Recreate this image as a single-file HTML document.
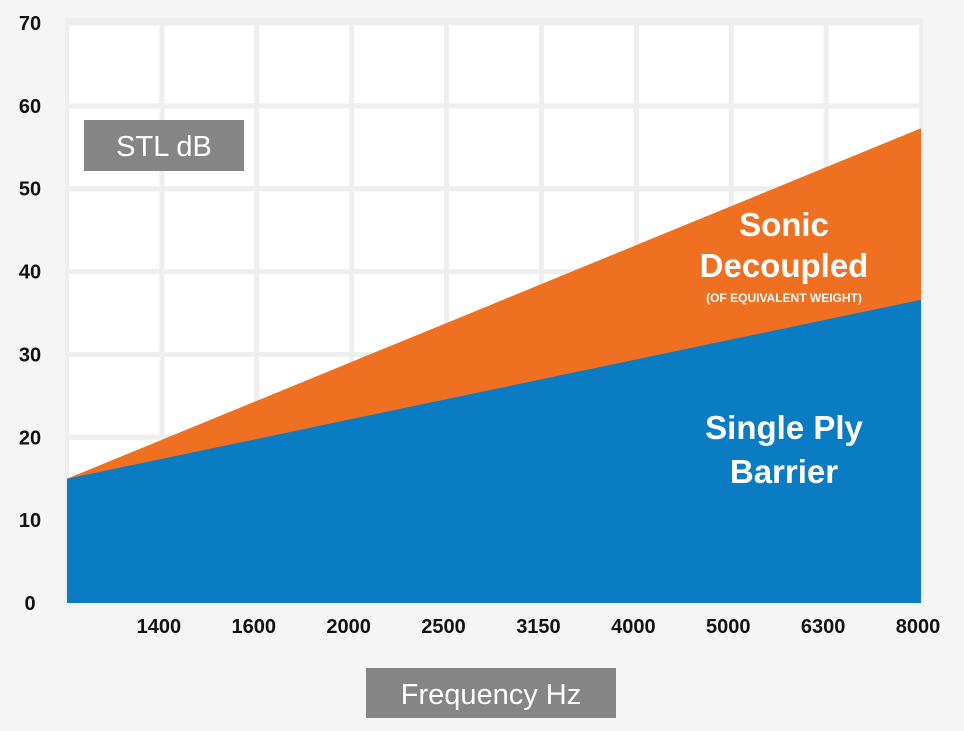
<!DOCTYPE html>
<html><head><meta charset="utf-8"><style>
body{margin:0;background:#f5f5f5;}
svg{display:block;font-family:"Liberation Sans",sans-serif;}
</style></head><body>
<svg id="chart" width="964" height="731" viewBox="0 0 964 731">
<rect x="0" y="0" width="964" height="731" fill="#f5f5f5"/>
<g id="grid"></g>
<g id="areas"></g>
<g id="yticks"></g>
<g id="xticks"></g>
<g>
<rect x="84" y="120" width="160" height="51" fill="#858585"/>
<text x="164" y="156" text-anchor="middle" font-size="29" fill="#fff">STL dB</text>
</g>
<g>
<rect x="366" y="668" width="250" height="50" fill="#858585"/>
<text x="491" y="704" text-anchor="middle" font-size="29" fill="#fff">Frequency Hz</text>
</g>
<g fill="#fff" font-weight="bold" text-anchor="middle">
<text x="784" y="236" font-size="33">Sonic</text>
<text x="784" y="277" font-size="33">Decoupled</text>
<text x="784" y="302" font-size="12">(OF EQUIVALENT WEIGHT)</text>
</g>
<g fill="#fff" font-weight="bold" text-anchor="middle" font-size="33">
<text x="784" y="439">Single Ply</text>
<text x="784" y="483">Barrier</text>
</g>
</svg>
<script>
const categories = ["", "1400", "1600", "2000", "2500", "3150", "4000", "5000", "6300", "8000"];
const singlePly = [15, 17.4, 19.8, 22.2, 24.6, 27.0, 29.4, 31.8, 34.2, 36.6];
const sonicDecoupled = [15, 19.7, 24.4, 29.1, 33.8, 38.5, 43.2, 47.9, 52.6, 57.3];
const yTicks = [0, 10, 20, 30, 40, 50, 60, 70];

const NS = "http://www.w3.org/2000/svg";
const x0 = 67, x1 = 921, yBase = 603, yTop = 20;
const xs = i => x0 + i * (x1 - x0) / (categories.length - 1);
const ys = v => yBase - v * (yBase - 23) / 70;
function mk(tag, attrs, parent) { const e = document.createElementNS(NS, tag); for (const k in attrs) e.setAttribute(k, attrs[k]); parent.appendChild(e); return e; }

const grid = document.getElementById("grid");
mk("rect", {x: x0, y: yTop, width: x1 - x0, height: yBase - yTop, fill: "#ffffff"}, grid);
for (let i = 1; i < categories.length - 1; i++) {
  const l = mk("line", {x1: xs(i), x2: xs(i), y1: yTop, y2: yBase, stroke: "#eeeeee", "stroke-width": 5}, grid);
  
  
}
yTicks.forEach(v => {
  if (v === 0) return;
  const l = mk("line", {x1: x0, x2: x1, y1: ys(v), y2: ys(v), stroke: "#eeeeee", "stroke-width": 5}, grid);
  
  
});
mk("rect", {x: x0, y: yTop, width: x1 - x0, height: yBase - yTop, fill: "none", stroke: "#eeeeee", "stroke-width": 4}, grid);

const areas = document.getElementById("areas");
function areaPath(vals) {
  let d = "M" + xs(0) + "," + yBase;
  vals.forEach((v, i) => { d += " L" + xs(i) + "," + ys(v); });
  d += " L" + xs(vals.length - 1) + "," + yBase + " Z";
  return d;
}
const o = mk("path", {d: areaPath(sonicDecoupled), fill: "#f07022"}, areas);


const b = mk("path", {d: areaPath(singlePly), fill: "#0a7cc4"}, areas);



const yg = document.getElementById("yticks");
yTicks.forEach(v => {
  const t = mk("text", {x: 30, y: ys(v) + 7, "text-anchor": "middle", "font-size": 20, "font-weight": "bold", fill: "#111"}, yg);
  t.textContent = v;
  
  
});
const xg = document.getElementById("xticks");
categories.forEach((c, i) => {
  if (!c) return;
  const t = mk("text", {x: xs(i) - 3, y: 633, "text-anchor": "middle", "font-size": 20, "font-weight": "bold", fill: "#111"}, xg);
  t.textContent = c;
  
  
});
</script>
</body></html>
